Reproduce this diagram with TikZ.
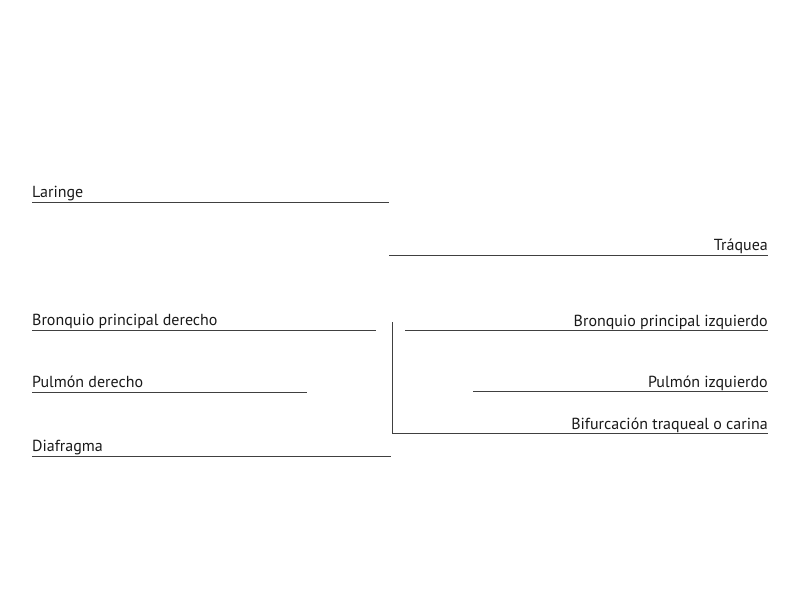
\documentclass[tikz,border=0pt]{standalone}
\usepackage{fontspec}
\setmainfont{PT Sans}
\usetikzlibrary{calc}

\begin{document}
\begin{tikzpicture}[x=1pt,y=-1pt,
    lbl/.style={inner sep=0pt,font=\fontsize{16}{19}\selectfont,text=black!90},
    rule/.style={draw=black!75,line width=1pt}]
            \useasboundingbox (0,0) rectangle (800,600);
            % left side labels
            \node[lbl,anchor=base west] (lar) at (32,197) {Laringe};
            \node[lbl,anchor=base west] (bpd) at (32,325) {Bronquio principal derecho};
            \node[lbl,anchor=base west] (pd) at (32,387) {Pulmón derecho};
            \node[lbl,anchor=base west] (dia) at (32,451) {Diafragma};
            % right side labels
            \node[lbl,anchor=base east] (tra) at (768,250) {Tráquea};
            \node[lbl,anchor=base east] (bpi) at (768,326) {Bronquio principal izquierdo};
            \node[lbl,anchor=base east] (pi) at (768,387) {Pulmón izquierdo};
            \node[lbl,anchor=base east] (bif) at (768,429) {Bifurcación traqueal o carina};
            % line ends
            \coordinate (lar1) at (32,202);  \coordinate (lar2) at (389,202);
            \coordinate (tra1) at (389,255); \coordinate (tra2) at (768,255);
            \coordinate (bpd1) at (32,330);  \coordinate (bpd2) at (376,330);
            \coordinate (bpi1) at (405,330); \coordinate (bpi2) at (768,330);
            \coordinate (pd1) at (32,392);   \coordinate (pd2) at (307,392);
            \coordinate (pi1) at (473,391);  \coordinate (pi2) at (768,391);
            \coordinate (bif0) at (392,322); \coordinate (bif1) at (392,433);
            \coordinate (bif2) at (768,433);
            \coordinate (dia1) at (32,456);  \coordinate (dia2) at (391,456);
            \draw[rule] (lar1) -- (lar2);
            \draw[rule] (tra1) -- (tra2);
            \draw[rule] (bpd1) -- (bpd2);
            \draw[rule] (bpi1) -- (bpi2);
            \draw[rule] (pd1) -- (pd2);
            \draw[rule] (pi1) -- (pi2);
            \draw[rule] (bif0) -- (bif1) -- (bif2);
            \draw[rule] (dia1) -- (dia2);
        \end{tikzpicture}
\end{document}
